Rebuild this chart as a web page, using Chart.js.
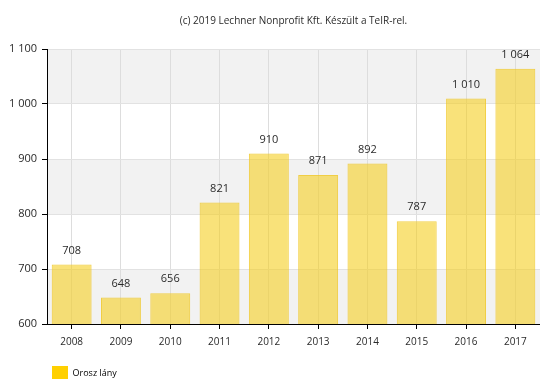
<!DOCTYPE html>
<html>
<head>
<meta charset="utf-8">
<script src="https://cdn.jsdelivr.net/npm/chart.js@4/dist/chart.umd.min.js"></script>
<style>
html,body{margin:0;padding:0;background:#fff;}
#wrap{width:540px;height:379px;position:relative;}
</style>
</head>
<body>
<div id="wrap"><canvas id="c" width="540" height="379"></canvas></div>
<script>
const titleText = "(c) 2019 Lechner Nonprofit Kft. Készült a TeIR-rel.";
const categories = ["2008","2009","2010","2011","2012","2013","2014","2015","2016","2017"];
const seriesName = "Orosz lány";
const values = [708, 648, 656, 821, 910, 871, 892, 787, 1010, 1064];
const yTicks = [600, 700, 800, 900, 1000, 1100];

function fmt(v){ return String(v).replace(/\B(?=(\d{3})+(?!\d))/g, ' '); }

const bandPlugin = {
  id: 'bands',
  beforeDraw(chart){
    const {ctx, chartArea, scales:{y}} = chart;
    ctx.save();
    ctx.fillStyle = '#ffffff';
    ctx.fillRect(0,0,chart.width,chart.height);
    for (let i = 0; i < yTicks.length - 1; i++){
      const lo = yTicks[i], hi = yTicks[i+1];
      if (i % 2 === 0){
        const top = y.getPixelForValue(hi), bot = y.getPixelForValue(lo);
        ctx.fillStyle = '#f2f2f2';
        ctx.fillRect(chartArea.left, top, chartArea.right - chartArea.left, bot - top);
      }
    }
    ctx.restore();
  }
};

const labelPlugin = {
  id: 'valueLabels',
  afterDatasetsDraw(chart){
    const {ctx} = chart;
    const meta = chart.getDatasetMeta(0);
    ctx.save();
    ctx.font = '11px "Open Sans", sans-serif';
    ctx.fillStyle = '#2a2a2a';
    ctx.textAlign = 'center';
    ctx.textBaseline = 'middle';
    meta.data.forEach((bar, i) => {
      ctx.fillText(fmt(chart.data.datasets[0].data[i]), bar.x, bar.y - 14);
    });
    ctx.restore();
  }
};

new Chart(document.getElementById('c'), {
  type: 'bar',
  data: {
    labels: categories,
    datasets: [{
      label: seriesName,
      data: values,
      backgroundColor: 'rgba(245,205,25,0.58)',
      borderColor: 'rgba(240,200,40,0.85)',
      borderWidth: 1,
      barPercentage: 0.81,
      categoryPercentage: 1.0
    }]
  },
  options: {
    responsive: false,
    animation: false,
    devicePixelRatio: 1,
    layout: { padding: { left: 0, right: 0, top: 0, bottom: -11 } },
    plugins: {
      title: {
        display: true,
        text: titleText,
        fullSize: false,
        color: '#2a2a2a',
        font: { family: '"Open Sans", sans-serif', size: 10, weight: 'normal' },
        padding: { top: 15, bottom: 22 }
      },
      legend: {
        display: true,
        position: 'bottom',
        align: 'start',
        fullSize: false,
        labels: {
          boxWidth: 16,
          boxHeight: 14,
          padding: 5,
          color: '#2a2a2a',
          font: { family: '"Open Sans", sans-serif', size: 9 },
          generateLabels(chart){
            return [{ text: seriesName, fillStyle: '#ffd000', strokeStyle: '#ffd000', lineWidth: 0, datasetIndex: 0, hidden: false }];
          }
        }
      },
      tooltip: { enabled: false }
    },
    scales: {
      x: {
        offset: true,
        grid: { offset: false, color: '#dddddd', drawTicks: true, tickLength: 5, tickColor: '#000000' },
        border: { color: '#000000', width: 1 },
        ticks: { color: '#2a2a2a', font: { family: '"Open Sans", sans-serif', size: 10 }, padding: 7, maxRotation: 0 },
        afterFit(scale){ scale.height = 37; }
      },
      y: {
        min: 600,
        max: 1100,
        afterBuildTicks(scale){ scale.ticks = yTicks.map(v => ({value: v})); },
        grid: { color: '#e2e2e2', drawTicks: true, tickLength: 5, tickColor: '#000000' },
        border: { color: '#000000', width: 1 },
        ticks: { color: '#2a2a2a', font: { family: '"Open Sans", sans-serif', size: 11 }, padding: 5, callback: v => fmt(v) },
        afterFit(scale){ scale.width = 47; }
      }
    }
  },
  plugins: [bandPlugin, labelPlugin]
});
</script>
</body>
</html>
